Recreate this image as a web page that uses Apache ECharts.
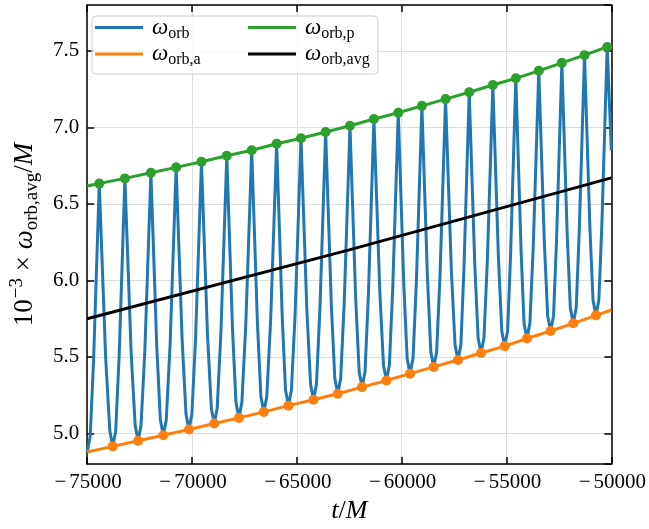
<!DOCTYPE html>
<html><head><meta charset="utf-8">
<script src="https://cdn.jsdelivr.net/npm/echarts@6/dist/echarts.min.js"></script>
<style>html,body{margin:0;padding:0;background:#fff}#c{width:649px;height:529px}</style>
</head><body><div id="c"></div>
<script>
// ---- data ----
const xRange = [-75000, -50000];
const yRange = [4.8, 7.8];
const xTickStep = 5000;
const yTickLabels = ['5.0', '5.5', '6.0', '6.5', '7.0', '7.5'];

// omega_orb (blue): trough, rising crossing, peak, falling crossing, trough shoulders ... in time order
const blueT = [-75000, -74855,
 -74694, -74422, -74119, -73918, -73778, -73638,
 -73472, -73200, -72904, -72710, -72570, -72430,
 -72246, -71959, -71681, -71507, -71367, -71227,
 -71043, -70756, -70469, -70285, -70145, -70005,
 -69829, -69548, -69261, -69077, -68937, -68797,
 -68621, -68340, -68068, -67902, -67762, -67622,
 -67438, -67151, -66879, -66713, -66573, -66433,
 -66249, -65962, -65697, -65538, -65398, -65258,
 -65082, -64801, -64520, -64344, -64204, -64064,
 -63898, -63626, -63354, -63188, -63048, -62908,
 -62739, -62465, -62193, -62027, -61887, -61747,
 -61588, -61323, -61042, -60866, -60726, -60586,
 -60427, -60162, -59897, -59738, -59598, -59458,
 -59299, -59034, -58769, -58610, -58470, -58330,
 -58171, -57906, -57628, -57454, -57314, -57174,
 -57030, -56778, -56513, -56354, -56214, -56074,
 -55915, -55650, -55385, -55226, -55086, -54946,
 -54805, -54555, -54305, -54164, -54024, -53884,
 -53725, -53460, -53195, -53036, -52896, -52756,
 -52612, -52360, -52104, -51955, -51815, -51675,
 -51531, -51279, -51023, -50874, -50734, -50594,
 -50450, -50198, -50000];
const blueV = [4.88, 4.98,
 5.476, 6.633, 5.500, 5.016, 4.916, 5.016,
 5.511, 6.667, 5.536, 5.053, 4.953, 5.053,
 5.548, 6.704, 5.572, 5.089, 4.989, 5.089,
 5.584, 6.739, 5.608, 5.126, 5.026, 5.126,
 5.621, 6.776, 5.647, 5.165, 5.065, 5.165,
 5.660, 6.815, 5.684, 5.202, 5.102, 5.202,
 5.697, 6.851, 5.722, 5.241, 5.141, 5.241,
 5.737, 6.893, 5.764, 5.282, 5.182, 5.282,
 5.776, 6.929, 5.802, 5.321, 5.221, 5.321,
 5.816, 6.970, 5.841, 5.360, 5.260, 5.360,
 5.855, 7.011, 5.884, 5.403, 5.303, 5.403,
 5.899, 7.055, 5.927, 5.446, 5.346, 5.446,
 5.941, 7.096, 5.971, 5.491, 5.391, 5.491,
 5.986, 7.141, 6.015, 5.535, 5.435, 5.535,
 6.030, 7.185, 6.060, 5.580, 5.480, 5.580,
 6.075, 7.230, 6.105, 5.626, 5.526, 5.626,
 6.121, 7.277, 6.151, 5.671, 5.571, 5.671,
 6.166, 7.321, 6.199, 5.721, 5.621, 5.721,
 6.216, 7.370, 6.248, 5.770, 5.670, 5.770,
 6.266, 7.422, 6.299, 5.820, 5.720, 5.820,
 6.316, 7.472, 6.350, 5.872, 5.772, 5.872,
 6.368, 7.526, 6.85];

// omega_orb,p (green): peaks
const peakT = [-74422, -73200, -71959, -70756, -69548, -68340, -67151, -65962, -64801, -63626, -62465,
 -61323, -60162, -59034, -57906, -56778, -55650, -54555, -53460, -52360, -51279, -50198];
const peakV = [6.633, 6.667, 6.704, 6.739, 6.776, 6.815, 6.851, 6.893, 6.929, 6.970, 7.011,
 7.055, 7.096, 7.141, 7.185, 7.230, 7.277, 7.321, 7.370, 7.422, 7.472, 7.526];
const peakEdgeV = [6.617, 7.536];   // green line value at left / right edge

// omega_orb,a (orange): troughs
const troughT = [-73778, -72570, -71367, -70145, -68937, -67762, -66573, -65398, -64204, -63048, -61887,
 -60726, -59598, -58470, -57314, -56214, -55086, -54024, -52896, -51815, -50734];
const troughV = [4.916, 4.953, 4.989, 5.026, 5.065, 5.102, 5.141, 5.182, 5.221, 5.260, 5.303,
 5.346, 5.391, 5.435, 5.480, 5.526, 5.571, 5.621, 5.670, 5.720, 5.772];
const troughEdgeV = [4.879, 5.807];

// omega_orb,avg (black)
const avgT = [-75000, -62500, -50000];
const avgV = [5.75, 6.20, 6.67];

// ---- build ----
const C = {blue:'#1f77b4', orange:'#ff7f0e', green:'#2ca02c', black:'#000000'};
const FF = '"Liberation Serif", "DejaVu Serif", serif';

const blueData = blueT.map((t, i) => [t, blueV[i]]);
function withEdges(ts, vs, edge) {
  const d = [{value:[xRange[0], edge[0]], symbol:'none'}];
  ts.forEach((t, i) => d.push([t, vs[i]]));
  d.push({value:[xRange[1], edge[1]], symbol:'none'});
  return d;
}
const greenData = withEdges(peakT, peakV, peakEdgeV);
const orangeData = withEdges(troughT, troughV, troughEdgeV);
const avgData = avgT.map((t, i) => [t, avgV[i]]);

const axisLineStyle = {color:'#000', width:1.5};
const tickStyle = {show:true, inside:true, length:7, lineStyle:{color:'#000', width:1.5}};
const gridLine = {show:true, lineStyle:{color:'#dddddd', width:1}};

const legendRich = {
  w:{fontFamily:FF, fontStyle:'italic', fontSize:23, color:'#000', lineHeight:24, padding:[0,0,0,4], verticalAlign:'middle'},
  s:{fontFamily:FF, fontSize:16, color:'#000', lineHeight:24, verticalAlign:'bottom', padding:[0,0,-2,0]}
};
const legendNames = {orb:'orb', orb_a:'orb,a', orb_p:'orb,p', orb_avg:'orb,avg'};
function legendFmt(n){ return '{w|ω}{s|' + legendNames[n] + '}'; }

const legendBase = {
  orient:'vertical', icon:'rect', itemWidth:48, itemHeight:3, itemGap:1, padding:0,
  formatter: legendFmt, textStyle:{rich: legendRich}, selectedMode:false, z:10
};

const option = {
  animation:false,
  backgroundColor:'#ffffff',
  grid:{left:81, right:36, top:5, bottom:63},
  graphic:[{type:'rect', z:5, shape:{x:92, y:16, width:286, height:58, r:4},
    style:{fill:'rgba(255,255,255,0.8)', stroke:'#cccccc', lineWidth:1}}],
  legend:[
    Object.assign({}, legendBase, {left:95, top:16, data:['orb', 'orb_a']}),
    Object.assign({}, legendBase, {left:248, top:16, data:['orb_p', 'orb_avg']})
  ],
  xAxis:[{
    type:'value', min:xRange[0], max:xRange[1], interval:xTickStep, position:'bottom',
    axisLine:{show:true, onZero:false, lineStyle:axisLineStyle},
    axisTick:tickStyle, splitLine:gridLine,
    axisLabel:{margin:8, color:'#000',
      formatter:v => { const s = String(Math.round(v)); return s[0] === '-' ? '{m|−}{d|' + s.slice(1) + '}' : '{d|' + s + '}'; },
      rich:{m:{fontFamily:FF, fontSize:21, color:'#000', padding:[0,3,0,2]}, d:{fontFamily:FF, fontSize:21, color:'#000'}}},
    name:'{w|t}{n|/}{w|M}', nameLocation:'middle', nameGap:30,
    nameTextStyle:{rich:{w:{fontFamily:FF, fontStyle:'italic', fontSize:26, color:'#000'}, n:{fontFamily:FF, fontSize:26, color:'#000'}}}
  },{
    type:'value', min:xRange[0], max:xRange[1], interval:xTickStep, position:'top',
    axisLine:{show:true, onZero:false, lineStyle:axisLineStyle},
    axisTick:tickStyle, axisLabel:{show:false}, splitLine:{show:false}
  }],
  yAxis:[{
    type:'value', min:yRange[0], max:yRange[1], splitNumber:6, position:'left',
    axisLine:{show:true, onZero:false, lineStyle:axisLineStyle},
    axisTick:tickStyle, splitLine:gridLine,
    axisLabel:{margin:8, color:'#000', fontFamily:FF, fontSize:21, showMinLabel:false, showMaxLabel:false,
      formatter:v => { const s = v.toFixed(1); return yTickLabels.indexOf(s) >= 0 ? s : ''; }},
    name:'{n|10}{sup|−3}{n| × }{w|ω}{sub|orb,avg}{n|/}{w|M}', nameLocation:'middle', nameRotate:90, nameGap:44,
    nameTextStyle:{rich:{
      n:{fontFamily:FF, fontSize:27, color:'#000', lineHeight:34},
      w:{fontFamily:FF, fontStyle:'italic', fontSize:27, color:'#000', lineHeight:34},
      sup:{fontFamily:FF, fontSize:19, color:'#000', verticalAlign:'top', lineHeight:34, padding:[0,0,6,1]},
      sub:{fontFamily:FF, fontSize:19, color:'#000', verticalAlign:'bottom', lineHeight:34}
    }}
  },{
    type:'value', min:yRange[0], max:yRange[1], splitNumber:6, position:'right',
    axisLine:{show:true, onZero:false, lineStyle:axisLineStyle},
    axisTick:tickStyle, axisLabel:{show:false}, splitLine:{show:false}
  }],
  series:[
    {name:'orb', type:'line', data:blueData, showSymbol:false, symbol:'none',
      lineStyle:{color:C.blue, width:3}, itemStyle:{color:C.blue}, z:2},
    {name:'orb_a', type:'line', data:orangeData, symbol:'circle', symbolSize:10, showSymbol:true,
      lineStyle:{color:C.orange, width:3}, itemStyle:{color:C.orange}, z:3},
    {name:'orb_p', type:'line', data:greenData, symbol:'circle', symbolSize:10, showSymbol:true,
      lineStyle:{color:C.green, width:3}, itemStyle:{color:C.green}, z:3},
    {name:'orb_avg', type:'line', data:avgData, symbol:'none',
      lineStyle:{color:C.black, width:3}, itemStyle:{color:C.black}, z:4}
  ]
};
const chart = echarts.init(document.getElementById('c'), null, {renderer:'canvas'});
chart.setOption(option);
</script></body></html>
